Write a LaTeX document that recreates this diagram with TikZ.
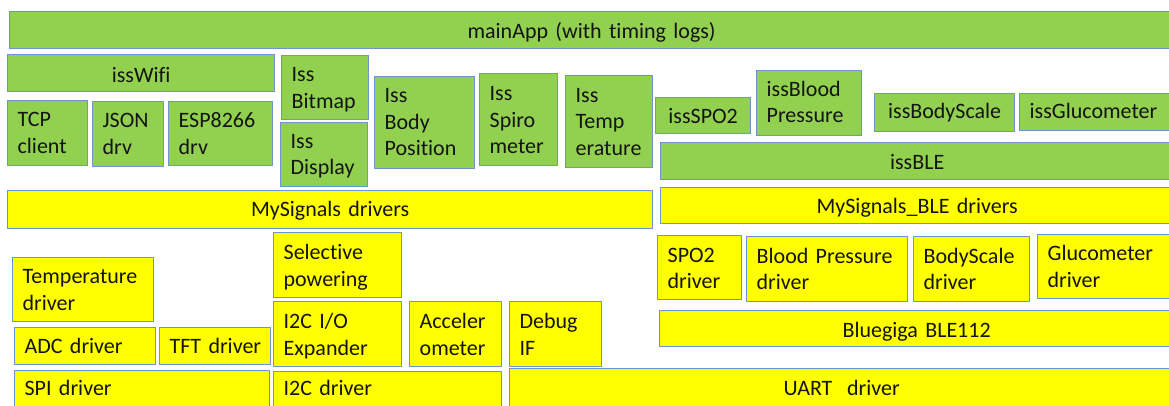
\documentclass[tikz,border=0pt]{standalone}
\usepackage{fontspec}
\setmainfont{Carlito}[Ligatures=NoCommon]
\definecolor{edge}{RGB}{110,148,210}
\definecolor{grn}{RGB}{146,208,80}
\definecolor{ylw}{RGB}{255,255,0}
\definecolor{ink}{RGB}{20,20,20}
\tikzset{
  blk/.style={draw=edge, line width=1.3pt, inner ysep=0pt, inner xsep=10pt,
    anchor=north west, text=ink, font=\fontsize{22}{26.5}\selectfont},
  gl/.style={fill=grn, align=left},
  gc/.style={fill=grn, align=center},
  yl/.style={fill=ylw, align=left},
  yc/.style={fill=ylw, align=center},
}
% name, x1, y1, x2, y2, style, baseline offset, text
\newcommand\B[8]{%
  \pgfmathsetmacro\bw{#4-#2-20}\pgfmathsetmacro\bd{#5-#3-#7}%
  \node[blk,#6,text width=\bw pt,text height=#7pt,text depth=\bd pt] (#1) at (#2,#3) {#8};}
\begin{document}
\begin{tikzpicture}[x=1pt,y=-1pt]
\useasboundingbox (0,0) rectangle (1169,405);
\clip (0,0) rectangle (1169,405);
% top layer
\B{main}{9}{11}{1173}{48}{gc}{26.6}{mainApp (with timing logs)}
\B{wifi}{7}{54}{274}{91}{gc}{27.5}{issWifi}
\B{tcp}{7}{100}{87}{165}{gl}{26}{TCP\\client}
\B{json}{92}{101}{163}{166}{gl}{26}{JSON\\drv}
\B{esp}{168}{101}{272}{165}{gl}{26}{ESP8266\\drv}
\B{bitmap}{281}{55}{368}{119}{gl}{26}{Iss\\Bitmap}
\B{display}{280}{122}{367}{186}{gl}{25.7}{Iss\\Display}
\B{bodypos}{374}{76}{474}{168}{gl}{26.3}{Iss\\Body\\Position}
\B{spiro}{479}{73}{557}{165}{gl}{27}{Iss\\Spiro\\meter}
\B{temp}{565}{75}{652}{167}{gl}{26.7}{Iss\\Temp\\erature}
\B{spo}{655}{97}{750}{133}{gc}{25.7}{issSPO2}
\B{blood}{756}{70}{861}{135}{gl}{25.7}{issBlood\\Pressure}
\B{scale}{874}{93}{1014}{131}{gc}{25}{issBodyScale}
\B{gluco}{1019}{93}{1190}{130}{gl}{25}{issGlucometer}
\B{ble}{660}{142}{1173}{179}{gc}{27}{issBLE}
% driver layer
\B{msd}{7}{190}{652}{228}{yc}{26}{MySignals drivers}
\B{msble}{660}{187}{1173}{223}{yc}{26}{MySignals\_BLE drivers}
\B{tempdrv}{12}{257}{153}{321}{yl}{26.3}{Temperature\\driver}
\B{adc}{14}{327}{155}{364}{yl}{26.3}{ADC~driver}
\B{tft}{159}{327}{270}{364}{yl}{26.3}{TFT~driver}
\B{spi}{14}{370}{269}{413}{yl}{25}{SPI~driver}
\B{selpow}{273}{232}{401}{297}{yl}{27}{Selective\\powering}
\B{ioexp}{273}{301}{401}{366}{yl}{27}{I2C~I/O\\Expander}
\B{accel}{409}{301}{501}{366}{yl}{27}{Acceler\\ometer}
\B{debug}{509}{301}{601}{366}{yl}{27}{Debug\\IF}
\B{i2c}{273}{371}{501}{413}{yl}{24}{I2C~driver}
\B{uart}{509}{368}{1173}{413}{yc}{27}{UART\ \ driver}
\B{spodrv}{657}{235}{741}{299}{yl}{26.7}{SPO2\\driver}
\B{bpdrv}{746}{236}{907}{301}{yl}{26.7}{Blood~Pressure\\driver}
\B{bsdrv}{913}{236}{1029}{301}{yl}{26.7}{BodyScale\\driver}
\B{gldrv}{1037}{234}{1190}{298}{yl}{26}{Glucometer\\driver}
\B{blue}{659}{310}{1173}{346}{yc}{26.7}{Bluegiga BLE112}
\end{tikzpicture}
\end{document}
